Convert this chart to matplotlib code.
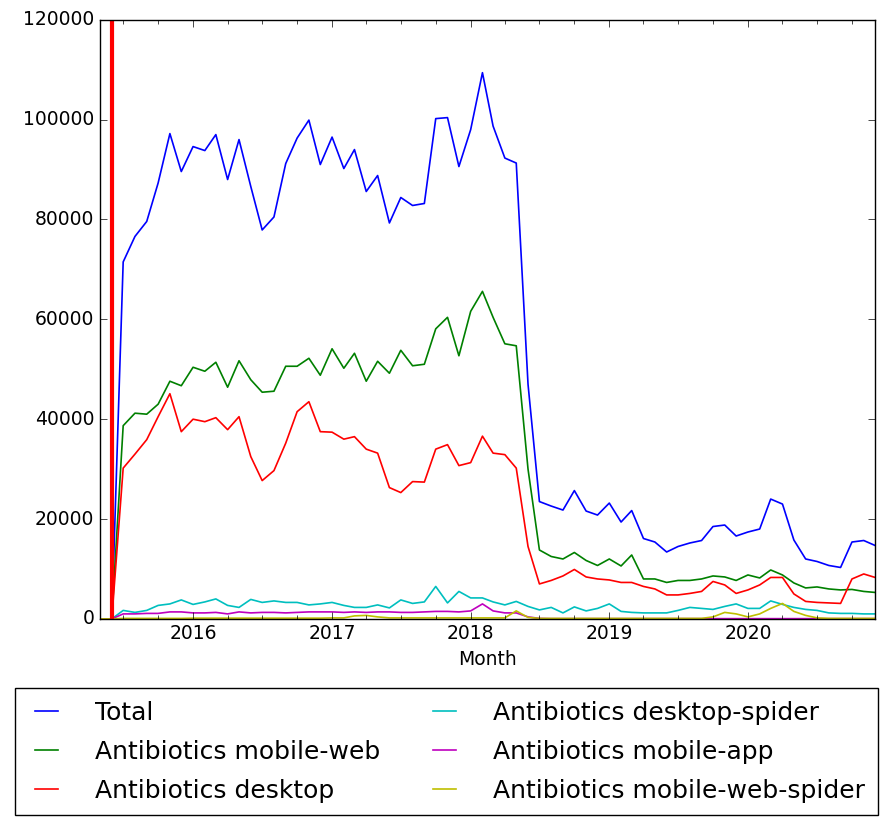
import matplotlib
matplotlib.use("Agg")
import matplotlib.pyplot as plt
import matplotlib.dates as mdates
import pandas as pd

months = pd.date_range("2015-05-01", "2020-12-01", freq="MS")

total = [0, 0, 71500, 76600, 79600, 87300, 97200, 89600,
         94600, 93800, 97000, 88000, 96000, 86600, 77900, 80500, 91200, 96300, 99900, 91000,
         96500, 90200, 94000, 85600, 88800, 79300, 84400, 82800, 83200, 100200, 100400, 90600,
         98000, 109400, 98700, 92300, 91300, 47000, 23500, 22600, 21800, 25700, 21600, 20800,
         23200, 19400, 21700, 16100, 15400, 13400, 14500, 15200, 15700, 18500, 18800, 16600,
         17400, 18000, 24000, 23000, 15800, 12000, 11500, 10700, 10300, 15400, 15700, 14700]

mobile_web = [0, 0, 38700, 41200, 41000, 43000, 47600, 46700,
              50400, 49600, 51400, 46400, 51700, 47900, 45400, 45600, 50600, 50600, 52200, 48800,
              54100, 50200, 53200, 47600, 51600, 49200, 53800, 50700, 51000, 58100, 60400, 52700,
              61600, 65600, 60400, 55100, 54700, 30000, 13800, 12500, 12000, 13300, 11700, 10700,
              12000, 10600, 12800, 8000, 8000, 7300, 7700, 7700, 8000, 8600, 8400, 7700,
              8800, 8200, 9800, 8800, 7200, 6200, 6400, 6000, 5800, 5900, 5500, 5300]

desktop = [0, 0, 30200, 33000, 35900, 40500, 45100, 37500,
           40000, 39500, 40300, 37900, 40500, 32500, 27700, 29700, 35200, 41500, 43500, 37500,
           37400, 36000, 36500, 34000, 33200, 26300, 25300, 27500, 27400, 34000, 34900, 30700,
           31300, 36600, 33200, 32900, 30200, 14500, 7000, 7700, 8600, 9900, 8400, 8000,
           7800, 7300, 7300, 6500, 6000, 4800, 4800, 5100, 5500, 7500, 6800, 5100,
           5800, 6800, 8300, 8300, 5000, 3500, 3300, 3200, 3100, 8000, 9000, 8300]

desktop_spider = [0, 0, 1700, 1300, 1700, 2700, 3000, 3800,
                  2900, 3400, 4000, 2700, 2300, 3900, 3300, 3600, 3300, 3300, 2800, 3000,
                  3300, 2700, 2300, 2300, 2800, 2200, 3800, 3100, 3400, 6500, 3200, 5500,
                  4200, 4200, 3400, 2800, 3500, 2500, 1800, 2300, 1200, 2400, 1600, 2100,
                  3000, 1500, 1300, 1200, 1200, 1200, 1700, 2300, 2100, 1900, 2500, 3000,
                  2100, 2100, 3600, 2900, 2300, 1900, 1700, 1200, 1100, 1100, 1000, 1000]

mobile_app = [0, 0, 1000, 1000, 1100, 1100, 1400, 1400,
              1200, 1200, 1300, 1000, 1400, 1200, 1300, 1300, 1200, 1300, 1400, 1400,
              1400, 1300, 1400, 1300, 1400, 1400, 1300, 1300, 1400, 1500, 1500, 1400,
              1600, 3000, 1600, 1200, 1200, 400, 100, 50, 50, 50, 50, 50,
              50, 50, 50, 50, 50, 50, 50, 50, 50, 50, 50, 50,
              50, 50, 50, 50, 50, 50, 50, 50, 50, 50, 50, 50]

mobile_web_spider = [0, 0, 100, 100, 100, 100, 100, 100,
                     150, 150, 150, 150, 150, 150, 150, 150, 150, 150, 150, 150,
                     200, 200, 600, 700, 400, 200, 200, 200, 200, 200, 200, 200,
                     200, 200, 200, 200, 1600, 300, 100, 100, 100, 100, 100, 100,
                     100, 100, 100, 100, 100, 100, 100, 100, 100, 400, 1300, 1000,
                     400, 1000, 2100, 3100, 1500, 700, 200, 100, 100, 100, 100, 100]

series = [
    ("Total", total, "b"),
    ("Antibiotics mobile-web", mobile_web, "g"),
    ("Antibiotics desktop", desktop, "r"),
    ("Antibiotics desktop-spider", desktop_spider, "c"),
    ("Antibiotics mobile-app", mobile_app, "m"),
    ("Antibiotics mobile-web-spider", mobile_web_spider, "y"),
]

plt.style.use("classic")
plt.rcParams["font.family"] = ["DejaVu Sans"]

fig = plt.figure(figsize=(8.93, 8.23), dpi=100, facecolor="white")
ax = fig.add_axes([0.112, 0.248, 0.868, 0.728])

for name, vals, col in series:
    ax.plot(months, vals, color=col, lw=1.2, label=name)

ax.axvline(pd.Timestamp("2015-06-01"), color="r", lw=3)

ax.set_xlim(months[0], months[-1])
ax.set_ylim(0, 120000)
ax.xaxis.set_major_locator(mdates.YearLocator())
ax.xaxis.set_major_formatter(mdates.DateFormatter("%Y"))
ax.xaxis.set_minor_locator(mdates.MonthLocator(bymonth=[1, 4, 7, 10]))
ax.tick_params(labelsize=13.5)
ax.tick_params(which="major", length=5)
ax.tick_params(which="minor", length=3)
ax.set_xlabel("Month", fontsize=13.5)

fig.legend(loc="upper center", bbox_to_anchor=(0.5, 0.179), ncol=2,
           fontsize=18, fancybox=False, handlelength=1.5,
           handletextpad=1.2, columnspacing=1.8,
           labelspacing=0.6, borderpad=0.5)

fig.savefig("out.png", dpi=100, facecolor="white")
